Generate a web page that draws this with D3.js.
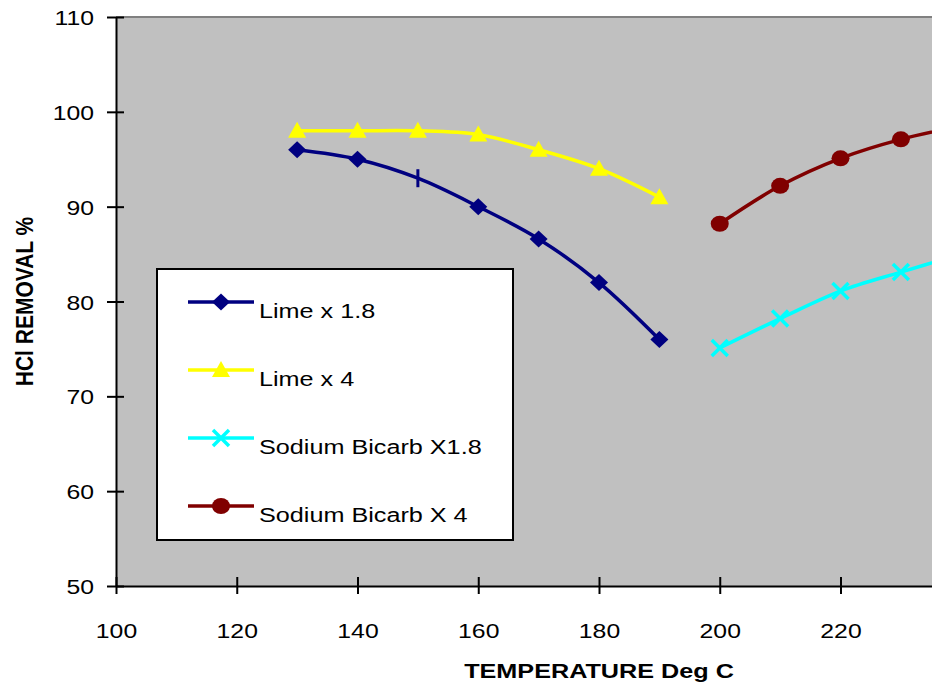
<!DOCTYPE html>
<html>
<head>
<meta charset="utf-8">
<script src="https://cdn.jsdelivr.net/npm/d3@7"></script>
<style>
  body { margin: 0; background: #fff; }
  svg { display: block; font-family: "Liberation Sans", Arial, sans-serif; }
</style>
</head>
<body>
<div id="chart-area"></div>
<script>
// dados
const limeTemps = [130, 140, 150, 160, 170, 180, 190]
const lime18 = [96, 95, 93, 90, 86.6, 82, 76]
const lime4 = [98, 98, 98, 97.6, 96, 94, 91]
const sodaTemps = [200, 210, 220, 230, 240]
const soda18 = [75.1, 78.2, 81.1, 83.1, 85]
const soda4 = [88.2, 92.2, 95.1, 97.1, 98.5]
const xTicks = [100, 120, 140, 160, 180, 200, 220]
const yTicks = [50, 60, 70, 80, 90, 100, 110]

const series = [
  { name: "Lime x 1.8", x: limeTemps, y: lime18, color: "#000080", marker: "diamond" },
  { name: "Lime x 4", x: limeTemps, y: lime4, color: "#ffff00", marker: "triangle" },
  { name: "Sodium Bicarb X1.8", x: sodaTemps, y: soda18, color: "#00ffff", marker: "cross" },
  { name: "Sodium Bicarb X 4", x: sodaTemps, y: soda4, color: "#800000", marker: "circle" }
]

const W = 932, H = 683
const sx = 1.18 // o texto original está esticado na horizontal

const svg = d3.select("#chart-area").append("svg")
  .attr("width", W)
  .attr("height", H)

// escalas (o gráfico original continua para além da margem direita)
const x = d3.scaleLinear().domain([100, 260]).range([116, 1082])
const y = d3.scaleLinear().domain([50, 110]).range([586, 17])

// área do gráfico
svg.append("rect")
  .attr("x", x(100)).attr("y", y(110))
  .attr("width", x(260) - x(100)).attr("height", y(50) - y(110))
  .attr("fill", "#c0c0c0")
svg.append("line")
  .attr("x1", x(100)).attr("x2", x(260))
  .attr("y1", y(110)).attr("y2", y(110))
  .attr("stroke", "#808080").attr("stroke-width", 2)

// eixo y
const yAxis = svg.append("g")
  .attr("transform", `translate(${x(100)},0)`)
  .call(d3.axisLeft(y).tickValues(yTicks).tickSize(0).tickPadding(0))
yAxis.select(".domain").attr("stroke", "#000").attr("stroke-width", 2)
yAxis.selectAll(".tick").append("line")
  .attr("x1", -9).attr("x2", 8)
  .attr("stroke", "#000").attr("stroke-width", 2)
yAxis.selectAll(".tick text")
  .attr("x", 0).attr("dy", "0.36em")
  .attr("transform", `translate(-22,0) scale(${sx},1)`)
  .attr("text-anchor", "end")
  .attr("font-size", "21px")
  .attr("font-family", "Liberation Sans, Arial, sans-serif")
  .attr("fill", "#000")

// eixo x
const xAxis = svg.append("g")
  .attr("transform", `translate(0,${y(50)})`)
  .call(d3.axisBottom(x).tickValues(xTicks).tickSize(0).tickPadding(0))
xAxis.select(".domain").attr("stroke", "#000").attr("stroke-width", 2)
xAxis.selectAll(".tick").append("line")
  .attr("y1", -9).attr("y2", 8)
  .attr("stroke", "#000").attr("stroke-width", 2)
// traços do eixo x que ficam fora da imagem
svg.append("g")
  .attr("transform", `translate(0,${y(50)})`)
  .selectAll("line").data([240, 260]).join("line")
  .attr("x1", d => x(d)).attr("x2", d => x(d))
  .attr("y1", -9).attr("y2", 8)
  .attr("stroke", "#000").attr("stroke-width", 2)
xAxis.selectAll(".tick text")
  .attr("y", 0).attr("dy", 0)
  .attr("transform", `translate(0,52) scale(${sx},1)`)
  .attr("font-size", "21px")
  .attr("font-family", "Liberation Sans, Arial, sans-serif")
  .attr("fill", "#000")

// títulos dos eixos
svg.append("text")
  .attr("transform", `translate(${(x(100) + x(260)) / 2},678) scale(1.2,1)`)
  .attr("text-anchor", "middle")
  .attr("font-size", "21px")
  .attr("font-weight", "bold")
  .text("TEMPERATURE Deg C")

svg.append("text")
  .attr("transform", `translate(33,${(y(50) + y(110)) / 2}) rotate(-90) scale(1,1.15)`)
  .attr("text-anchor", "middle")
  .attr("font-size", "21px")
  .attr("font-weight", "bold")
  .text("HCl REMOVAL %")

// marcadores
function drawMarker(g, type, color) {
  if (type === "diamond") {
    g.append("path").attr("d", "M0,-8.5L9,0L0,8.5L-9,0Z").attr("fill", color)
  } else if (type === "triangle") {
    g.append("path").attr("d", "M0,-9L9,7L-9,7Z").attr("fill", color)
  } else if (type === "circle") {
    g.append("ellipse").attr("rx", 9).attr("ry", 8).attr("fill", color)
  } else if (type === "cross") {
    g.append("path").attr("d", "M-8,-8L8,8M-8,8L8,-8")
      .attr("stroke", color).attr("stroke-width", 3.5).attr("fill", "none")
  } else if (type === "bar") {
    g.append("path").attr("d", "M0,-9L0,9")
      .attr("stroke", color).attr("stroke-width", 3).attr("fill", "none")
  }
}

const line = d3.line()
  .x(d => x(d[0]))
  .y(d => y(d[1]))
  .curve(d3.curveCatmullRom.alpha(0.5))

series.forEach(s => {
  const pts = s.x.map((t, i) => [t, s.y[i]])
  svg.append("path")
    .datum(pts)
    .attr("d", line)
    .attr("fill", "none")
    .attr("stroke", s.color)
    .attr("stroke-width", 3.5)
  pts.forEach(p => {
    const g = svg.append("g").attr("transform", `translate(${x(p[0])},${y(p[1])})`)
    // no original o ponto de 150 °C da série "Lime x 1.8" aparece só com um traço
    const type = (s.marker === "diamond" && p[0] === 150) ? "bar" : s.marker
    drawMarker(g, type, s.color)
  })
})

// legenda
const legend = svg.append("g")
legend.append("rect")
  .attr("x", 157).attr("y", 269)
  .attr("width", 356).attr("height", 271)
  .attr("fill", "#fff").attr("stroke", "#000").attr("stroke-width", 2)

series.forEach((s, i) => {
  const ly = 302 + i * 68
  legend.append("line")
    .attr("x1", 188).attr("x2", 254)
    .attr("y1", ly).attr("y2", ly)
    .attr("stroke", s.color).attr("stroke-width", 3.5)
  drawMarker(legend.append("g").attr("transform", `translate(221,${ly})`), s.marker, s.color)
  legend.append("text")
    .attr("transform", `translate(259,${ly + 16}) scale(1.2,1)`)
    .attr("font-size", "21px")
    .text(s.name)
})
</script>
</body>
</html>
